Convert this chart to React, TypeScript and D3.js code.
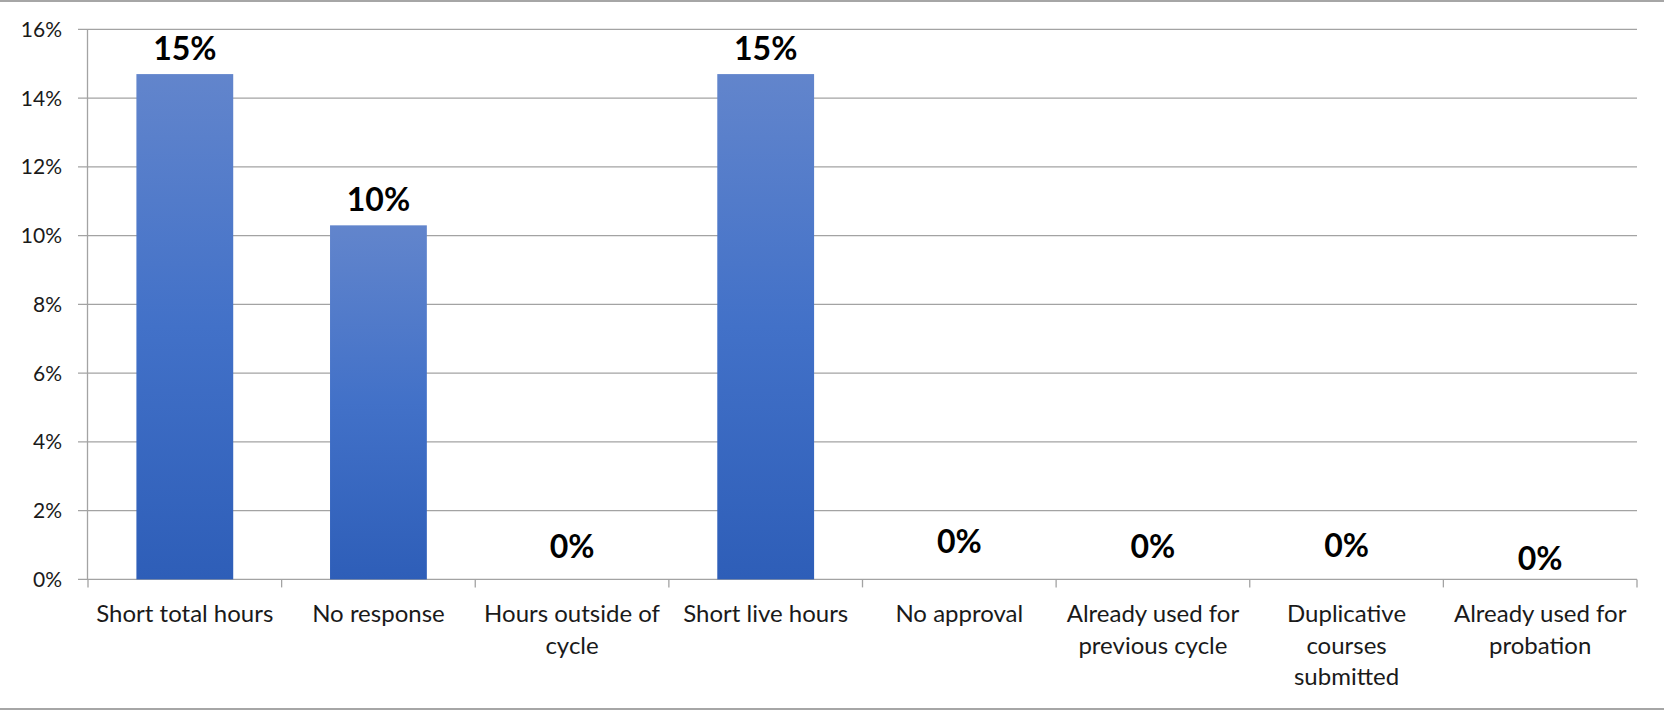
import React from "react";
import * as d3 from "d3";

const categories = [
  "Short total hours",
  "No response",
  "Hours outside of\ncycle",
  "Short live hours",
  "No approval",
  "Already used for\nprevious cycle",
  "Duplicative\ncourses\nsubmitted",
  "Already used for\nprobation",
];
const values = [14.7, 10.3, 0, 14.7, 0, 0, 0, 0];
const yTicks = [0, 2, 4, 6, 8, 10, 12, 14, 16];
// manual nudges of the data labels (px), as placed in the original
const labelNudge = [0, 0, -7, 0, -12, -7, -8, 5];

const W = 1664;
const H = 710;
const FONT = "Lato, 'Open Sans', sans-serif";

export default function App() {
  const x = d3
    .scaleBand<string>()
    .domain(categories)
    .range([88, 1637])
    .paddingInner(0.5)
    .paddingOuter(0.25);
  const y = d3.scaleLinear().domain([0, 16]).range([579.4, 29.4]);
  const step = x.step();
  const boundaries = d3.range(categories.length + 1).map((i) => 88 + i * step);
  const grid = "#a3a3a3";

  return (
    <svg
      width={W}
      height={H}
      style={{ position: "absolute", left: 0, top: 0, background: "#fff" }}
    >
      <defs>
        <linearGradient id="barGrad" x1="0" y1="0" x2="0" y2="1">
          <stop offset="0" stopColor="#6285cc" />
          <stop offset="0.5" stopColor="#4271c8" />
          <stop offset="1" stopColor="#2e5eb8" />
        </linearGradient>
      </defs>
      {/* outer frame lines */}
      <line x1={0} x2={W} y1={1} y2={1} stroke="#a6a6a6" strokeWidth={2} />
      <line x1={0} x2={W} y1={709} y2={709} stroke="#a6a6a6" strokeWidth={2} />

      {/* gridlines + y ticks */}
      {yTicks.map((t) => (
        <g key={t}>
          <line x1={78} x2={1637} y1={y(t)} y2={y(t)} stroke={grid} strokeWidth={1.3} />
          <text
            x={62}
            y={y(t) + 7.5}
            textAnchor="end"
            fontFamily={FONT}
            fontSize={21}
            fill="#1a1a1a"
          >
            {t}%
          </text>
        </g>
      ))}
      {/* y axis */}
      <line x1={87.5} x2={87.5} y1={y(16)} y2={y(0)} stroke={grid} strokeWidth={1.3} />
      {/* x ticks */}
      {boundaries.map((b, i) => (
        <line key={i} x1={b} x2={b} y1={y(0)} y2={y(0) + 8} stroke={grid} strokeWidth={1.3} />
      ))}

      {/* bars */}
      {categories.map((c, i) =>
        values[i] > 0 ? (
          <rect
            key={c}
            x={x(c)}
            y={y(values[i])}
            width={x.bandwidth()}
            height={y(0) - y(values[i])}
            fill="url(#barGrad)"
          />
        ) : null
      )}

      {/* data labels */}
      {categories.map((c, i) => (
        <text
          key={c}
          x={(x(c) as number) + x.bandwidth() / 2}
          y={y(values[i]) - 14.5 + labelNudge[i]}
          textAnchor="middle"
          fontFamily={FONT}
          fontWeight={700}
          fontSize={32}
          fill="#000"
        >
          {Math.round(values[i])}%
        </text>
      ))}

      {/* category labels */}
      {categories.map((c) => (
        <text
          key={c}
          x={(x(c) as number) + x.bandwidth() / 2}
          y={622}
          textAnchor="middle"
          fontFamily={FONT}
          fontSize={24}
          fill="#1a1a1a"
        >
          {c.split("\n").map((line, j) => (
            <tspan key={j} x={(x(c) as number) + x.bandwidth() / 2} dy={j === 0 ? 0 : 31.5}>
              {line}
            </tspan>
          ))}
        </text>
      ))}
    </svg>
  );
}
